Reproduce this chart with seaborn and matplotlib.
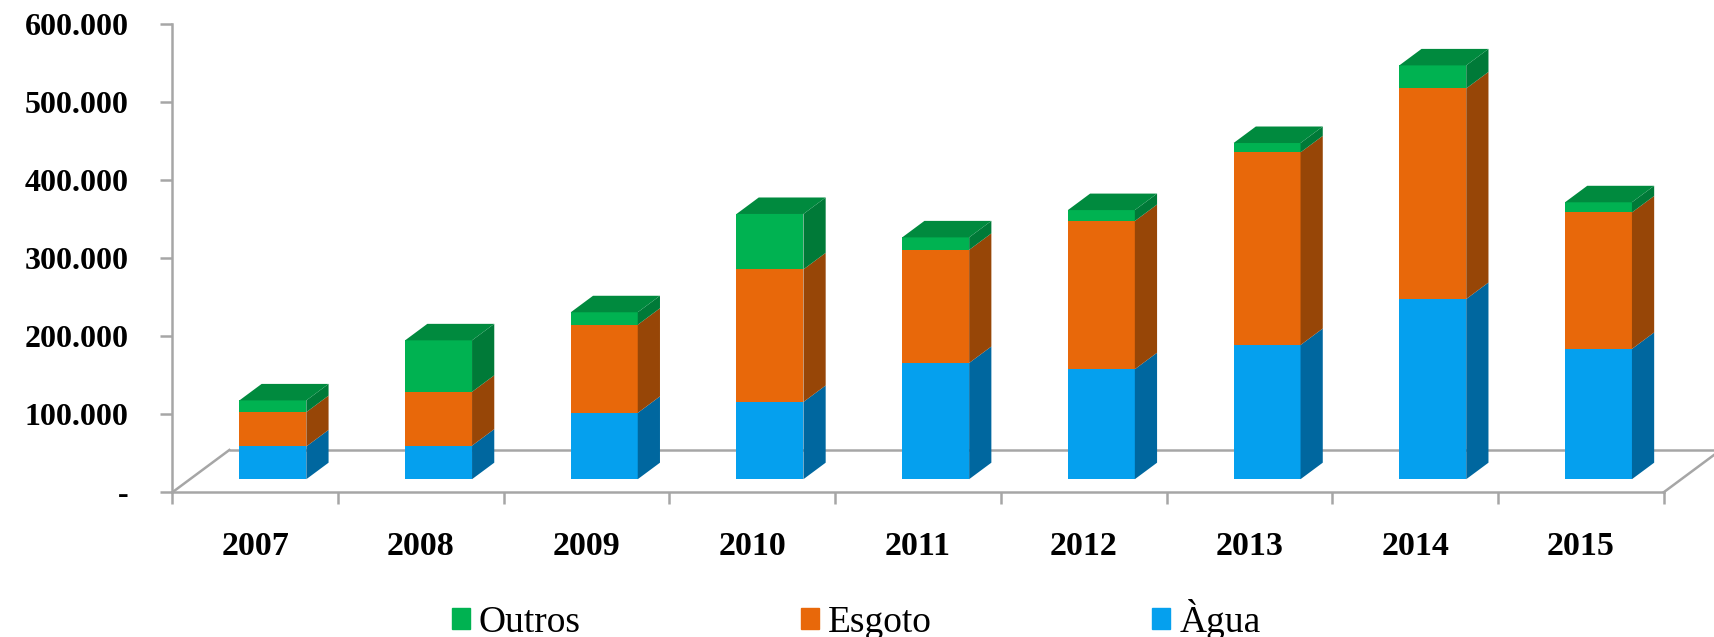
import numpy as np
import matplotlib
matplotlib.use("Agg")
import matplotlib.pyplot as plt
from matplotlib.patches import Patch
import seaborn as sns

# ---------------- data ----------------
years = ["2007", "2008", "2009", "2010", "2011", "2012", "2013", "2014", "2015"]
agua = [42000, 43000, 85000, 99000, 149000, 141000, 172000, 231000, 167000]
esgoto = [44000, 69000, 113000, 170000, 145000, 190000, 247000, 270000, 175000]
outros = [15000, 66000, 16000, 71000, 16000, 14000, 12000, 29500, 13000]
y_ticks = [0, 100000, 200000, 300000, 400000, 500000, 600000]
legend_labels = ["Outros", "Esgoto", "Àgua"]

# ---------------- styling ----------------
C_BLUE, C_BLUE_S = "#05A0EE", "#00679F"
C_ORANGE, C_ORANGE_S = "#E8680A", "#974607"
C_GREEN, C_GREEN_S, C_GREEN_T = "#00B251", "#007A38", "#008A3E"
GRAY = "#A6A6A6"
SERIF = ["Liberation Serif", "DejaVu Serif"]

W, H, DPI = 1715, 637, 100
X0, XS = 255.2, 165.7          # px of first category centre, px per category
Y0, YS = 492.3, 0.00078        # px (from top) of value 0, px per value unit

fig = plt.figure(figsize=(W / DPI, H / DPI), dpi=DPI)
ax = fig.add_axes([0, 0, 1, 1])
ax.set_facecolor("white")

pos = np.arange(len(years))
a = np.array(agua, float)
e = np.array(esgoto, float)
o = np.array(outros, float)
ae = a + e
tot = ae + o

# oblique depth vector of the floor (data units)
FDX, FDY = 57 / XS, 42.3 / YS
f_front, f_back = 0.31, 0.70
bfx, bfy = f_front * FDX, f_front * FDY
bdx, bdy = (f_back - f_front) * FDX, (f_back - f_front) * FDY
BW = 0.404

# floor lines (behind bars)
ax.plot([-0.5 + FDX, 8.5 + FDX], [FDY, FDY], color=GRAY, lw=1.8, zorder=1, solid_capstyle="butt")
ax.plot([-0.5, -0.5 + FDX], [0, FDY], color=GRAY, lw=1.8, zorder=1)
ax.plot([8.5, 8.5 + FDX], [0, FDY], color=GRAY, lw=1.8, zorder=1)

# front faces with seaborn (cumulative layering)
for vals, col in [(tot, C_GREEN), (ae, C_ORANGE), (a, C_BLUE)]:
    sns.barplot(x=pos, y=vals, native_scale=True, width=BW, color=col,
                saturation=1, linewidth=0, errorbar=None, ax=ax, zorder=3)
    for p in ax.containers[-1]:
        p.set_x(p.get_x() + bfx)
        p.set_y(p.get_y() + bfy)

# side faces and top faces
for i in pos:
    xr = i + BW / 2 + bfx
    xl = i - BW / 2 + bfx
    for lo, hi, col in [(0, a[i], C_BLUE_S), (a[i], ae[i], C_ORANGE_S), (ae[i], tot[i], C_GREEN_S)]:
        ax.fill([xr, xr + bdx, xr + bdx, xr],
                [lo + bfy, lo + bfy + bdy, hi + bfy + bdy, hi + bfy],
                color=col, lw=0, zorder=3)
    t = tot[i] + bfy
    ax.fill([xl, xr, xr + bdx, xl + bdx], [t, t, t + bdy, t + bdy],
            color=C_GREEN_T, lw=0, zorder=3)

# axes geometry
ax.set_xlim((0 - X0) / XS, (W - X0) / XS)
ax.set_ylim((Y0 - H) / YS, Y0 / YS)
for s in ["top", "right"]:
    ax.spines[s].set_visible(False)
ax.spines["left"].set_position(("data", -0.5))
ax.spines["left"].set_bounds(0, 600000)
ax.spines["bottom"].set_position(("data", 0))
ax.spines["bottom"].set_bounds(-0.5, 8.5)
for s in ["left", "bottom"]:
    ax.spines[s].set_color(GRAY)
    ax.spines[s].set_linewidth(1.8)

ylabels = ["-" if v == 0 else f"{v:,.0f}".replace(",", ".") for v in y_ticks]
ax.set_yticks(y_ticks, ylabels)
ax.tick_params(axis="y", length=8.6, width=1.8, color=GRAY, pad=23, labelsize=23)
for lab in ax.get_yticklabels():
    lab.set_fontfamily(SERIF)
    lab.set_fontweight("bold")

ax.set_xticks(np.arange(len(years) + 1) - 0.5, [""] * (len(years) + 1))
ax.set_xticks(pos, years, minor=True)
ax.tick_params(axis="x", which="major", length=8.6, width=1.8, color=GRAY)
ax.tick_params(axis="x", which="minor", length=0, pad=28, labelsize=24.5)
for lab in ax.get_xticklabels(minor=True):
    lab.set_fontfamily(SERIF)
    lab.set_fontweight("bold")
ax.set_xlabel("")
ax.set_ylabel("")
ax.grid(False)

# legend
handles = [Patch(color=C_GREEN), Patch(color=C_ORANGE), Patch(color=C_BLUE)]
fig.legend(handles, legend_labels, loc="center left",
           bbox_to_anchor=(452 / W, (H - 619) / H), ncol=3, frameon=False,
           borderaxespad=0, borderpad=0, handlelength=0.48, handleheight=0.48,
           handletextpad=0.24, columnspacing=5.87,
           prop={"family": SERIF, "size": 27})

fig.savefig("out.png", dpi=DPI, facecolor="white")
